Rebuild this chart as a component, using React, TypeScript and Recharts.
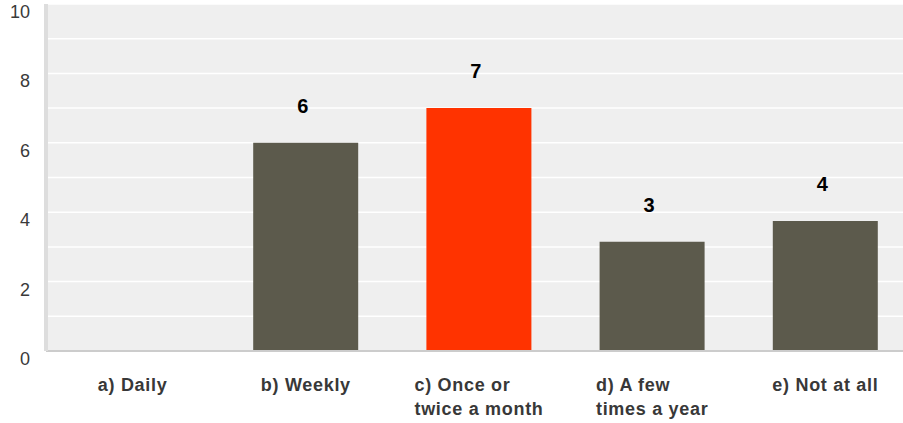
import React from 'react';
import { BarChart, Bar, XAxis, YAxis, CartesianGrid, Cell, LabelList } from 'recharts';

const categories = ['a) Daily', 'b) Weekly', 'c) Once or\ntwice a month', 'd) A few\ntimes a year', 'e) Not at all'];
const values = [0, 6, 7, 3.15, 3.75];
const yTicks = [0, 1, 2, 3, 4, 5, 6, 7, 8, 9, 10];
const highlighted = 'c) Once or\ntwice a month';

const data = categories.map((c, i) => ({ name: c, value: values[i] }));

const FONT = "'Liberation Sans', Arial, Helvetica, sans-serif";
const GRAY = '#5c5a4c';
const RED = '#ff3300';
const LS = 0.7;

let ctx: CanvasRenderingContext2D | null = null;
const measure = (s: string) => {
  if (!ctx) {
    const c = document.createElement('canvas');
    ctx = c.getContext('2d');
  }
  if (!ctx) return s.length * 10;
  ctx.font = `bold 18px ${FONT}`;
  return ctx.measureText(s).width + LS * s.length;
};

const XTick = (props: any) => {
  const { x, y, payload } = props;
  const lines = String(payload.value).split('\n');
  const w = Math.max(...lines.map(measure));
  return (
    <g>
      {lines.map((l, i) => (
        <text
          key={i}
          x={x - w / 2}
          y={y + 40 + i * 24}
          textAnchor="start"
          fontFamily={FONT}
          fontWeight="bold"
          fontSize={18}
          letterSpacing={LS}
          fill="#383838"
        >
          {l}
        </text>
      ))}
    </g>
  );
};

const YTick = (props: any) => {
  const { x, y, payload } = props;
  if (payload.value % 2 !== 0) return null;
  return (
    <text x={x - 16} y={y + 14} textAnchor="end" fontFamily={FONT} fontSize={18} fill="#3a3a3a">
      {payload.value}
    </text>
  );
};

const BarLabel = (props: any) => {
  const { x, y, width, value } = props;
  if (!value) return null;
  return (
    <text x={x + width / 2 - 3} y={y - 30} textAnchor="middle" fontFamily={FONT} fontWeight="bold" fontSize={20} fill="#000">
      {Math.round(value)}
    </text>
  );
};

export default function App() {
  return (
    <div style={{ position: 'fixed', left: 0, top: 0, width: 903, height: 423, overflow: 'hidden', background: '#fff' }}>
      <BarChart width={920} height={423} data={data} margin={{ top: 4, right: 8, bottom: 12, left: 0 }}>
        <CartesianGrid fill="#efefef" stroke="#ffffff" strokeWidth={1.5} vertical={false} />
        <XAxis
          dataKey="name"
          height={60}
          tickLine={false}
          tickSize={0}
          tickMargin={0}
          interval={0}
          axisLine={{ stroke: '#cccccc', strokeWidth: 2 }}
          tick={<XTick />}
        />
        <YAxis
          width={46}
          domain={[0, 10]}
          ticks={yTicks}
          interval={0}
          tickLine={false}
          tickSize={0}
          tickMargin={0}
          axisLine={{ stroke: '#dddddd', strokeWidth: 4 }}
          tick={<YTick />}
        />
        <Bar dataKey="value" barSize={105} isAnimationActive={false}>
          {data.map((d) => (
            <Cell key={d.name} fill={d.name === highlighted ? RED : GRAY} />
          ))}
          <LabelList dataKey="value" content={<BarLabel />} />
        </Bar>
      </BarChart>
    </div>
  );
}
